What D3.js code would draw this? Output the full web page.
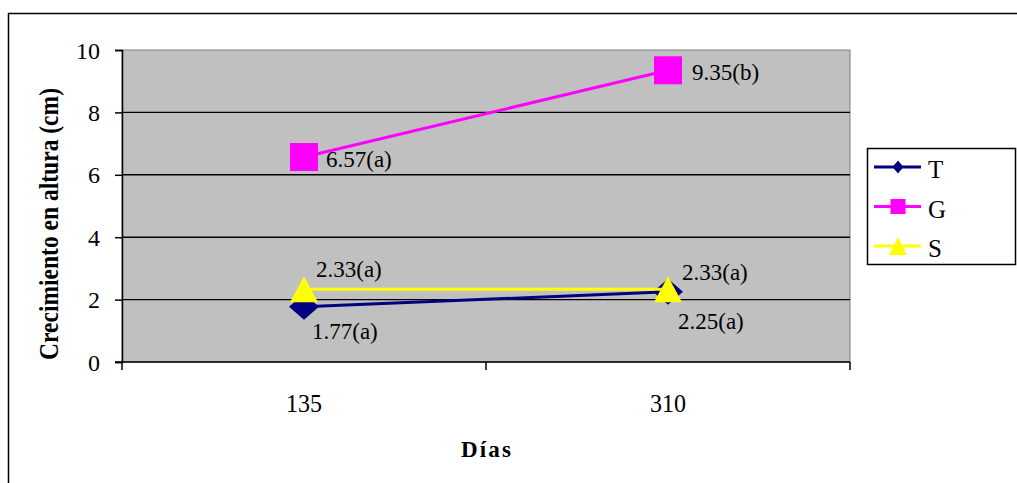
<!DOCTYPE html>
<html>
<head>
<meta charset="utf-8">
<script src="https://cdn.jsdelivr.net/npm/d3@7"></script>
<style>
  html, body { margin: 0; padding: 0; background: #fff; }
</style>
</head>
<body>
<svg id="chart" width="1017" height="483"></svg>
<script>
// Height growth (cm) by day, per treatment
const days = ["135", "310"];
const seriesNames = ["T", "G", "S"];
const valuesT = [1.77, 2.25];
const valuesG = [6.57, 9.35];
const valuesS = [2.33, 2.33];
const labelsT = ["1.77(a)", "2.25(a)"];
const labelsG = ["6.57(a)", "9.35(b)"];
const labelsS = ["2.33(a)", "2.33(a)"];
const yTicks = [0, 2, 4, 6, 8, 10];

const colors = { T: "#000080", G: "#FF00FF", S: "#FFFF00" };
const serif = "\"Liberation Serif\"";

// custom marker shapes with adjustable aspect ratio
const diamondType = aspect => ({
  draw(c, size) {
    const w = Math.sqrt(size) / 2, h = w * aspect;
    c.moveTo(0, -h); c.lineTo(w, 0); c.lineTo(0, h); c.lineTo(-w, 0); c.closePath();
  }
});
const triangleType = aspect => ({
  draw(c, size) {
    const w = Math.sqrt(size) / 2, h = w * aspect;
    c.moveTo(0, -h); c.lineTo(w, h); c.lineTo(-w, h); c.closePath();
  }
});

const series = [
  { name: "T", values: valuesT, labels: labelsT, symbol: diamondType(0.87), size: 900,
    legendSymbol: diamondType(1.18), legendSize: 121 },
  { name: "G", values: valuesG, labels: labelsG, symbol: d3.symbolSquare, size: 784,
    legendSymbol: d3.symbolSquare, legendSize: 225 },
  { name: "S", values: valuesS, labels: labelsS, symbol: triangleType(0.93), size: 784,
    legendSymbol: triangleType(1.0), legendSize: 324 }
];

const svg = d3.select("#chart");

// outer frame
svg.append("rect")
  .attr("x", 8.5).attr("y", 13.5)
  .attr("width", 1040).attr("height", 500)
  .attr("fill", "#fff").attr("stroke", "#000").attr("stroke-width", 1.5);

const plot = { left: 122, right: 850, top: 50, bottom: 362 };

const x = d3.scaleBand().domain(days).range([plot.left, plot.right]);
const y = d3.scaleLinear().domain([0, 10]).range([plot.bottom, plot.top]);
const cx = d => x(d) + x.bandwidth() / 2;

// plot background with grey border
svg.append("rect")
  .attr("x", plot.left).attr("y", plot.top)
  .attr("width", plot.right - plot.left).attr("height", plot.bottom - plot.top)
  .attr("fill", "#C0C0C0").attr("stroke", "#808080").attr("stroke-width", 1);

// horizontal gridlines
svg.append("g").selectAll("line")
  .data(yTicks.filter(t => t > 0 && t < 10))
  .join("line")
  .attr("x1", plot.left).attr("x2", plot.right)
  .attr("y1", d => y(d)).attr("y2", d => y(d))
  .attr("stroke", "#000").attr("stroke-width", 1.4);

// y axis
const yAxis = svg.append("g")
  .attr("transform", `translate(${plot.left},0)`)
  .call(d3.axisLeft(y).tickValues(yTicks).tickSize(7).tickPadding(15).tickFormat(d3.format("d")));
yAxis.select(".domain").attr("stroke", "#000").attr("stroke-width", 1.5);
yAxis.selectAll(".tick line").attr("stroke", "#000").attr("stroke-width", 1.5);
yAxis.selectAll(".tick text")
  .attr("dy", "0.34em")
  .style("font-family", serif)
  .style("font-size", "24px").attr("fill", "#000");

// x axis with boundary ticks
const xAxisG = svg.append("g").attr("transform", `translate(0,${plot.bottom})`);
xAxisG.append("line")
  .attr("x1", plot.left - 7).attr("x2", plot.right)
  .attr("y1", 0).attr("y2", 0)
  .attr("stroke", "#000").attr("stroke-width", 1.5);
const bounds = days.map(d => x(d)).concat([plot.right]);
xAxisG.selectAll("line.tk")
  .data(bounds)
  .join("line")
  .attr("class", "tk")
  .attr("x1", d => d).attr("x2", d => d)
  .attr("y1", 0).attr("y2", 8)
  .attr("stroke", "#000").attr("stroke-width", 1.5);
xAxisG.selectAll("text")
  .data(days)
  .join("text")
  .attr("x", d => cx(d)).attr("y", 50)
  .attr("text-anchor", "middle")
  .attr("textLength", 36).attr("lengthAdjust", "spacingAndGlyphs")
  .style("font-family", serif)
  .style("font-size", "25px").attr("fill", "#000")
  .text(d => d);

// axis titles
svg.append("text")
  .attr("x", (plot.left + plot.right) / 2).attr("y", 457)
  .attr("text-anchor", "middle")
  .attr("textLength", 50).attr("lengthAdjust", "spacing")
  .style("font-family", serif)
  .style("font-size", "23px").style("font-weight", "bold")
  .text("Días");

svg.append("text")
  .attr("transform", "translate(58,224) rotate(-90)")
  .attr("text-anchor", "middle")
  .attr("textLength", 272).attr("lengthAdjust", "spacingAndGlyphs")
  .style("font-family", serif)
  .style("font-size", "28px").style("font-weight", "bold")
  .text("Crecimiento en altura (cm)");

// lines and markers, one series after another
const line = d3.line().x((v, i) => cx(days[i])).y(v => y(v));
series.forEach(s => {
  svg.append("path")
    .datum(s.values)
    .attr("d", line)
    .attr("fill", "none")
    .attr("stroke", colors[s.name])
    .attr("stroke-width", 3);
  svg.append("g").selectAll("path")
    .data(s.values)
    .join("path")
    .attr("transform", (v, i) => `translate(${cx(days[i])},${y(v)})`)
    .attr("d", d3.symbol().type(s.symbol).size(s.size))
    .attr("fill", colors[s.name]);
});

// value labels
const labelOffsets = {
  T: [[8, 32], [10, 37]],
  G: [[22, 10], [24, 10]],
  S: [[12, -12], [14, -9]]
};
series.forEach(s => {
  svg.append("g").selectAll("text")
    .data(s.values)
    .join("text")
    .attr("x", (v, i) => cx(days[i]) + labelOffsets[s.name][i][0])
    .attr("y", (v, i) => y(v) + labelOffsets[s.name][i][1])
    .style("font-family", serif)
    .style("font-size", "23px").attr("fill", "#000")
    .text((v, i) => s.labels[i]);
});

// legend
const lg = svg.append("g").attr("transform", "translate(867,148)");
lg.append("rect")
  .attr("x", 0.5).attr("y", 0.5).attr("width", 148).attr("height", 116)
  .attr("fill", "#fff").attr("stroke", "#000").attr("stroke-width", 1.5);
series.forEach((s, i) => {
  const yy = 19 + i * 39.5;
  lg.append("line")
    .attr("x1", 7).attr("x2", 54).attr("y1", yy).attr("y2", yy)
    .attr("stroke", colors[s.name]).attr("stroke-width", 3);
  lg.append("path")
    .attr("transform", `translate(31,${yy})`)
    .attr("d", d3.symbol().type(s.legendSymbol).size(s.legendSize))
    .attr("fill", colors[s.name]);
  lg.append("text")
    .attr("x", 61).attr("y", yy + 11)
    .style("font-family", serif)
    .style("font-size", "25px").attr("fill", "#000")
    .text(seriesNames[i]);
});
</script>
</body>
</html>
